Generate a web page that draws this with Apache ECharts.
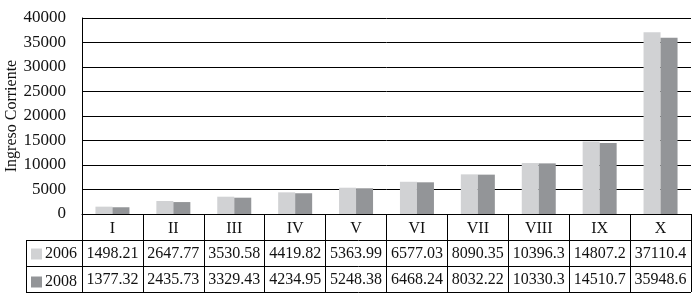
<!DOCTYPE html>
<html>
<head>
<meta charset="utf-8">
<script src="https://cdn.jsdelivr.net/npm/echarts@6/dist/echarts.min.js"></script>
<style>
html,body{margin:0;padding:0;background:#fff;}
#chart{width:699px;height:301px;}
</style>
</head>
<body>
<div id="chart"></div>
<script>
var categories = ['I','II','III','IV','V','VI','VII','VIII','IX','X'];
var seriesNames = ['2006','2008'];
var values2006 = [1498.21, 2647.77, 3530.58, 4419.82, 5363.99, 6577.03, 8090.35, 10396.3, 14807.2, 37110.4];
var values2008 = [1377.32, 2435.73, 3329.43, 4234.95, 5248.38, 6468.24, 8032.22, 10330.3, 14510.7, 35948.6];
var yTicks = [0, 5000, 10000, 15000, 20000, 25000, 30000, 35000, 40000];

var FONT = '"Liberation Serif", "DejaVu Serif", serif';
var TXT = '#111';
var colors = ['#d1d2d4', '#939598'];

var chart = echarts.init(document.getElementById('chart'), null, {renderer: 'canvas'});

function tableAxis(vals, offset) {
  return {
    type: 'category',
    data: vals.map(function (v) { return String(v); }),
    position: 'bottom',
    gridIndex: 0,
    offset: offset,
    axisLine: {show: false},
    axisTick: {show: false},
    axisLabel: {show: true, interval: 0, margin: 6, fontFamily: FONT, fontSize: 16, color: TXT}
  };
}

var option = {
  animation: false,
  color: colors,
  grid: {left: 82, right: 8, top: 18, bottom: 87, containLabel: false, outerBoundsMode: 'none'},
  legend: {
    data: seriesNames,
    orient: 'vertical',
    left: 26,
    top: 241,
    padding: 5,
    itemWidth: 11,
    itemHeight: 11,
    itemGap: 12,
    icon: 'rect',
    textStyle: {fontFamily: FONT, fontSize: 16, color: TXT, lineHeight: 15, padding: [0,0,0,-2]}
  },
  xAxis: [
    {
      type: 'category',
      data: categories,
      position: 'bottom',
      axisLine: {show: true, lineStyle: {color: '#000', width: 1}},
      axisTick: {show: true, length: 78, lineStyle: {color: '#000', width: 1}},
      axisLabel: {interval: 0, margin: 7, fontFamily: FONT, fontSize: 16, color: TXT},
      splitLine: {show: false}
    },
    tableAxis(values2006, 26),
    tableAxis(values2008, 52)
  ],
  yAxis: {
    type: 'value',
    min: 0,
    max: 40000,
    interval: 5000,
    name: 'Ingreso Corriente',
    nameLocation: 'middle',
    nameGap: 62,
    nameRotate: 90,
    nameMoveOverlap: false,
    nameTextStyle: {fontFamily: FONT, fontSize: 16, color: TXT},
    axisLine: {show: true, lineStyle: {color: '#000', width: 1}},
    axisTick: {show: false},
    axisLabel: {margin: 16, fontFamily: FONT, fontSize: 17, color: TXT,
      formatter: function (v) { return yTicks.indexOf(v) >= 0 ? String(v) : ''; }},
    splitLine: {show: true, lineStyle: {color: '#000', width: 1}}
  },
  series: [
    {name: seriesNames[0], type: 'bar', xAxisIndex: 0, data: values2006, barWidth: 17, barGap: '0%',
      itemStyle: {color: colors[0]}},
    {name: seriesNames[1], type: 'bar', xAxisIndex: 0, data: values2008, barWidth: 17, barGap: '0%',
      itemStyle: {color: colors[1]}}
  ],
  graphic: [
    {type: 'line', shape: {x1: 26, y1: 240.5, x2: 691, y2: 240.5}, style: {stroke: '#000', lineWidth: 1}},
    {type: 'line', shape: {x1: 26, y1: 266.5, x2: 691, y2: 266.5}, style: {stroke: '#000', lineWidth: 1}},
    {type: 'line', shape: {x1: 26, y1: 292.5, x2: 691, y2: 292.5}, style: {stroke: '#000', lineWidth: 1}},
    {type: 'line', shape: {x1: 26.5, y1: 240, x2: 26.5, y2: 293}, style: {stroke: '#000', lineWidth: 1}}
  ]
};
chart.setOption(option);
</script>
</body>
</html>
